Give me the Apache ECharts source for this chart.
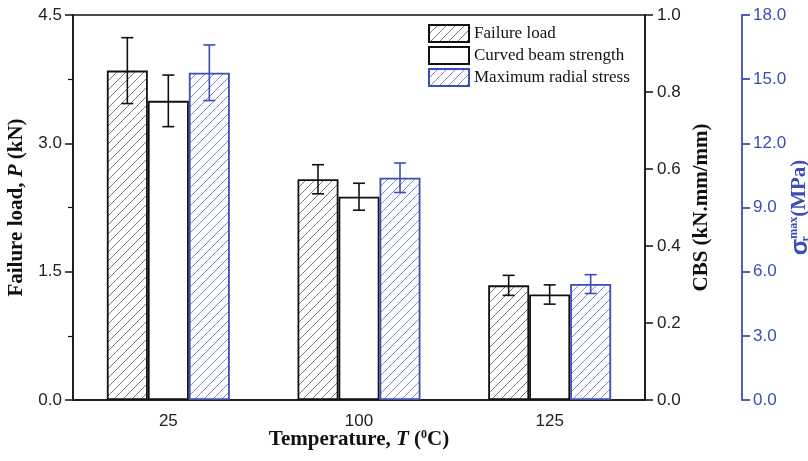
<!DOCTYPE html>
<html>
<head>
<meta charset="utf-8">
<script src="https://cdn.jsdelivr.net/npm/echarts@6/dist/echarts.min.js"></script>
<style>
  html, body { margin: 0; padding: 0; background: #fff; }
  #chart { width: 808px; height: 461px; }
</style>
</head>
<body>
<div id="chart"></div>
<script>
// Temperature groups
const categories = ['25', '100', '125'];

// Failure load P (kN) with standard deviation
const failureLoad = [3.85, 2.58, 1.34];
const failureErr = [0.385, 0.17, 0.117];

// Curved beam strength (kN.mm/mm) with standard deviation
const cbs = [0.777, 0.528, 0.274];
const cbsErr = [0.067, 0.035, 0.025];

// Maximum radial stress (MPa) with standard deviation
const radialStress = [15.3, 10.39, 5.42];
const radialErr = [1.3, 0.69, 0.44];

// Axis tick definitions
const loadTicks = { min: 0, max: 4.5, interval: 1.5 };
const cbsTicks = { min: 0, max: 1.0, interval: 0.2 };
const stressTicks = { min: 0, max: 18, interval: 3 };

const BLUE = '#3d4db7';
const BLACK = '#111';
const SANS = 'Liberation Sans, Arial, sans-serif';
const SERIF = 'Liberation Serif, Times New Roman, serif';
const BAR_FRAC = 0.215;

// Diagonal "///" hatch tile used as a repeating fill
function hatch(color, size) {
  const c = document.createElement('canvas');
  c.width = size; c.height = size;
  const g = c.getContext('2d');
  g.strokeStyle = color;
  g.lineWidth = 1;
  g.beginPath();
  g.moveTo(0, size); g.lineTo(size, 0);
  g.moveTo(-1, 1); g.lineTo(1, -1);
  g.moveTo(size - 1, size + 1); g.lineTo(size + 1, size - 1);
  g.stroke();
  return c;
}

// Error bars drawn at the centre of each bar within its group
function errorSeries(values, errs, yAxisIndex, slot, color) {
  return {
    type: 'custom',
    yAxisIndex: yAxisIndex,
    z: 5,
    silent: true,
    data: values.map((v, i) => [i, v, errs[i]]),
    renderItem: function (params, api) {
      const i = api.value(0), v = api.value(1), e = api.value(2);
      const band = api.size([1, 0])[0];
      const x = api.coord([i, v])[0] + slot * band * BAR_FRAC;
      const yt = api.coord([i, v + e])[1];
      const yb = api.coord([i, v - e])[1];
      const cap = 6;
      const style = { stroke: color, lineWidth: 1.6 };
      return {
        type: 'group',
        children: [
          { type: 'line', shape: { x1: x, y1: yt, x2: x, y2: yb }, style: style },
          { type: 'line', shape: { x1: x - cap, y1: yt, x2: x + cap, y2: yt }, style: style },
          { type: 'line', shape: { x1: x - cap, y1: yb, x2: x + cap, y2: yb }, style: style }
        ]
      };
    }
  };
}

const axisLabelStyle = (color, margin) => ({
  fontFamily: SANS, fontSize: 17, color: color, margin: margin,
  formatter: (v) => Number(v).toFixed(1)
});

const titleRich = (color) => ({
  b: { fontFamily: SERIF, fontWeight: 'bold', fontSize: 21, color: color },
  i: { fontFamily: SERIF, fontWeight: 'bold', fontStyle: 'italic', fontSize: 21, color: color },
  sup: { fontFamily: SERIF, fontWeight: 'bold', fontSize: 12, color: color, verticalAlign: 'top', padding: [0, 0, 9, 0] },
  sub: { fontFamily: SERIF, fontWeight: 'bold', fontSize: 12, color: color, verticalAlign: 'bottom', padding: [10, 0, 0, 0], width: 0 },
  sig: { fontFamily: SANS, fontWeight: 'bold', fontSize: 24, color: color }
});

const chart = echarts.init(document.getElementById('chart'), null, { renderer: 'canvas' });

chart.setOption({
  backgroundColor: '#fff',
  animation: false,
  grid: {
    left: 73, right: 163, top: 15, bottom: 61,
    outerBoundsMode: 'none', containLabel: false,
    show: true, borderColor: BLACK, borderWidth: 1.5, backgroundColor: 'transparent'
  },
  legend: {
    orient: 'vertical',
    left: 428, top: 24, padding: 0,
    itemWidth: 40, itemHeight: 17, itemGap: 3,
    icon: 'rect',
    data: ['Failure load', 'Curved beam strength', 'Maximum radial stress'],
    textStyle: { fontFamily: SERIF, fontSize: 17, color: BLACK }
  },
  xAxis: {
    type: 'category',
    data: categories,
    axisLine: { lineStyle: { color: BLACK, width: 1.5 } },
    axisTick: { alignWithLabel: true, length: 6, lineStyle: { color: BLACK, width: 1.5 } },
    axisLabel: { fontFamily: SANS, fontSize: 17, color: '#222', margin: 13 },
    splitLine: { show: false },
    name: '{b|Temperature, }{i|T}{b| (}{sup|0}{b|C)}',
    nameLocation: 'middle',
    nameGap: 29,
    nameMoveOverlap: false,
    nameTextStyle: { rich: titleRich(BLACK) }
  },
  yAxis: [
    {
      type: 'value', position: 'left',
      min: loadTicks.min, max: loadTicks.max, interval: loadTicks.interval,
      axisLine: { show: true, lineStyle: { color: BLACK, width: 1.5 } },
      axisTick: { show: true, length: 8, lineStyle: { color: BLACK, width: 1.5 } },
      minorTick: { show: true, splitNumber: 2, length: 5, lineStyle: { color: BLACK, width: 1.2 } },
      axisLabel: axisLabelStyle('#222', 11),
      splitLine: { show: false },
      name: '{b|Failure load, }{i|P}{b| (kN)}',
      nameLocation: 'middle', nameRotate: 90, nameGap: 46,
      nameTextStyle: { rich: titleRich(BLACK) }
    },
    {
      type: 'value', position: 'right',
      min: cbsTicks.min, max: cbsTicks.max, interval: cbsTicks.interval,
      axisLine: { show: true, lineStyle: { color: BLACK, width: 1.5 } },
      axisTick: { show: true, length: 8, lineStyle: { color: BLACK, width: 1.5 } },
      axisLabel: axisLabelStyle('#222', 12),
      splitLine: { show: false },
      name: '{b|CBS (kN.mm/mm)}',
      nameLocation: 'middle', nameRotate: 90, nameGap: 46,
      nameTextStyle: { rich: titleRich(BLACK) }
    },
    {
      type: 'value', position: 'right', offset: 97,
      min: stressTicks.min, max: stressTicks.max, interval: stressTicks.interval,
      axisLine: { show: true, lineStyle: { color: BLUE, width: 1.8 } },
      axisTick: { show: true, length: 8, lineStyle: { color: BLUE, width: 1.8 } },
      axisLabel: axisLabelStyle(BLUE, 11),
      splitLine: { show: false },
      name: '{sig|σ}{sub|r}{sup|max}{b|(MPa)}',
      nameLocation: 'middle', nameRotate: 90, nameGap: 46,
      nameMoveOverlap: false,
      nameTextStyle: { rich: titleRich(BLUE) }
    }
  ],
  series: [
    {
      type: 'bar', name: 'Failure load', yAxisIndex: 0,
      data: failureLoad,
      barWidth: (BAR_FRAC * 100) + '%', barGap: '0%',
      itemStyle: { color: { image: hatch('#7a7a7a', 9), repeat: 'repeat' }, borderColor: BLACK, borderWidth: 1.8 }
    },
    {
      type: 'bar', name: 'Curved beam strength', yAxisIndex: 1,
      data: cbs,
      barWidth: (BAR_FRAC * 100) + '%', barGap: '0%',
      itemStyle: { color: '#fff', borderColor: BLACK, borderWidth: 1.8 }
    },
    {
      type: 'bar', name: 'Maximum radial stress', yAxisIndex: 2,
      data: radialStress,
      barWidth: (BAR_FRAC * 100) + '%', barGap: '0%',
      itemStyle: { color: { image: hatch('#7f88d4', 9), repeat: 'repeat' }, borderColor: BLUE, borderWidth: 1.8 }
    },
    errorSeries(failureLoad, failureErr, 0, -1, BLACK),
    errorSeries(cbs, cbsErr, 1, 0, BLACK),
    errorSeries(radialStress, radialErr, 2, 1, BLUE)
  ]
});
</script>
</body>
</html>
